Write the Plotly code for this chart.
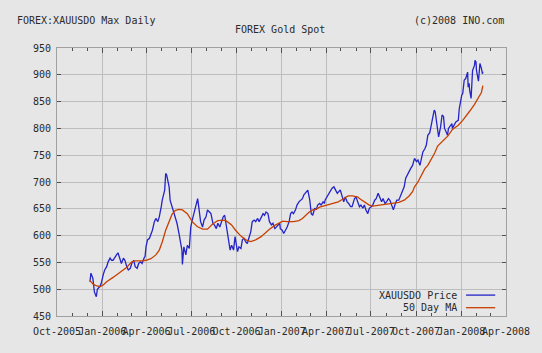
import plotly.graph_objects as go

price_dates = ["2005-12-07","2005-12-09","2005-12-13","2005-12-16","2005-12-20","2005-12-22","2005-12-27","2005-12-30",
"2006-01-03","2006-01-06","2006-01-10","2006-01-13","2006-01-17","2006-01-20","2006-01-23","2006-01-27","2006-01-30",
"2006-02-02","2006-02-06","2006-02-09","2006-02-13","2006-02-16","2006-02-20","2006-02-23","2006-02-27",
"2006-03-02","2006-03-06","2006-03-09","2006-03-13","2006-03-16","2006-03-20","2006-03-23","2006-03-27","2006-03-29","2006-03-31",
"2006-04-03","2006-04-07","2006-04-10","2006-04-13","2006-04-17","2006-04-20","2006-04-24","2006-04-27",
"2006-05-01","2006-05-03","2006-05-08","2006-05-10","2006-05-12","2006-05-17","2006-05-19","2006-05-23","2006-05-26","2006-05-30",
"2006-06-02","2006-06-06","2006-06-09","2006-06-12","2006-06-13","2006-06-16","2006-06-20","2006-06-23","2006-06-27","2006-06-30",
"2006-07-03","2006-07-06","2006-07-10","2006-07-13","2006-07-14","2006-07-17","2006-07-20","2006-07-24","2006-07-27","2006-07-31",
"2006-08-03","2006-08-07","2006-08-10","2006-08-14","2006-08-17","2006-08-21","2006-08-24","2006-08-28","2006-08-31",
"2006-09-04","2006-09-07","2006-09-11","2006-09-14","2006-09-18","2006-09-21","2006-09-25","2006-09-28","2006-09-29",
"2006-10-03","2006-10-06","2006-10-10","2006-10-13","2006-10-16","2006-10-20","2006-10-23","2006-10-26","2006-10-30",
"2006-11-02","2006-11-06","2006-11-09","2006-11-13","2006-11-16","2006-11-20","2006-11-24","2006-11-27","2006-11-30",
"2006-12-04","2006-12-07","2006-12-11","2006-12-14","2006-12-18","2006-12-21","2006-12-26","2006-12-28","2006-12-29",
"2007-01-02","2007-01-05","2007-01-09","2007-01-12","2007-01-16","2007-01-19","2007-01-22","2007-01-25","2007-01-29",
"2007-02-01","2007-02-05","2007-02-08","2007-02-12","2007-02-15","2007-02-21","2007-02-23","2007-02-27",
"2007-03-02","2007-03-05","2007-03-09","2007-03-12","2007-03-15","2007-03-19","2007-03-22","2007-03-26","2007-03-29","2007-03-30",
"2007-04-03","2007-04-06","2007-04-10","2007-04-13","2007-04-17","2007-04-20","2007-04-24","2007-04-27","2007-04-30",
"2007-05-03","2007-05-07","2007-05-10","2007-05-14","2007-05-17","2007-05-21","2007-05-24","2007-05-29",
"2007-06-01","2007-06-05","2007-06-08","2007-06-11","2007-06-15","2007-06-18","2007-06-21","2007-06-25","2007-06-28",
"2007-07-02","2007-07-05","2007-07-09","2007-07-12","2007-07-16","2007-07-19","2007-07-23","2007-07-26","2007-07-30",
"2007-08-02","2007-08-06","2007-08-09","2007-08-13","2007-08-16","2007-08-20","2007-08-23","2007-08-27","2007-08-30",
"2007-09-04","2007-09-07","2007-09-10","2007-09-13","2007-09-17","2007-09-20","2007-09-24","2007-09-27","2007-09-28",
"2007-10-02","2007-10-05","2007-10-09","2007-10-12","2007-10-15","2007-10-19","2007-10-22","2007-10-25","2007-10-29",
"2007-11-01","2007-11-05","2007-11-07","2007-11-09","2007-11-12","2007-11-14","2007-11-16","2007-11-20","2007-11-23","2007-11-26","2007-11-28",
"2007-12-03","2007-12-04","2007-12-06","2007-12-10","2007-12-13","2007-12-14","2007-12-18","2007-12-21","2007-12-26","2007-12-28",
"2008-01-02","2008-01-04","2008-01-07","2008-01-10","2008-01-14","2008-01-15","2008-01-17","2008-01-18","2008-01-21","2008-01-22",
"2008-01-24","2008-01-28","2008-01-29","2008-01-31","2008-02-01","2008-02-05","2008-02-07","2008-02-08","2008-02-11","2008-02-13","2008-02-14"]

price_values = [514,530,520,495,486,500,505,511,
527,536,542,551,558,554,554,561,564,
568,558,548,558,554,542,536,539,
548,554,542,539,548,551,548,558,561,579,
592,595,601,610,626,632,626,635,
654,666,685,716,713,691,666,654,648,636,
623,604,585,573,546,579,564,582,576,616,
629,641,654,666,669,648,626,616,629,635,
648,644,641,623,620,613,623,616,623,
635,638,616,592,573,582,573,598,592,
570,579,576,592,595,588,585,595,607,
626,629,626,632,626,635,641,638,644,
641,626,620,623,613,616,620,623,613,
610,604,610,616,626,641,644,641,648,
657,663,666,669,676,682,685,666,
641,638,651,648,657,660,657,663,660,666,
672,679,685,688,691,685,679,682,685,
676,663,672,663,660,654,654,669,
672,663,654,657,651,657,648,641,651,
654,657,666,669,679,673,663,669,660,
663,669,666,657,648,660,666,666,673,
685,691,707,713,719,725,731,741,744,
738,741,731,744,756,762,769,787,792,
806,831,834,831,812,806,784,803,825,822,800,
790,787,800,806,809,800,806,812,815,837,
862,865,890,893,905,877,884,872,856,877,
908,918,927,924,908,888,905,921,912,902,906]

ma_dates = ["2005-12-07","2005-12-14","2005-12-21","2005-12-28","2006-01-03","2006-01-10","2006-01-23","2006-02-06",
"2006-02-20","2006-03-02","2006-03-09","2006-03-23","2006-03-31","2006-04-10","2006-04-20","2006-04-27","2006-05-03",
"2006-05-10","2006-05-17","2006-05-23","2006-05-30","2006-06-06","2006-06-13","2006-06-23","2006-07-03","2006-07-13",
"2006-07-24","2006-08-03","2006-08-14","2006-08-24","2006-09-04","2006-09-11","2006-09-21","2006-09-29","2006-10-10",
"2006-10-20","2006-10-30","2006-11-09","2006-11-20","2006-11-30","2006-12-07","2006-12-18","2006-12-28","2007-01-03",
"2007-01-12","2007-01-25","2007-02-05","2007-02-12","2007-02-19","2007-02-26","2007-03-05","2007-03-12","2007-03-19",
"2007-03-27","2007-04-06","2007-04-16","2007-04-26","2007-05-03","2007-05-10","2007-05-16","2007-05-25","2007-06-05",
"2007-06-08","2007-06-18","2007-06-28","2007-07-05","2007-07-19","2007-08-02","2007-08-16","2007-08-27","2007-09-07",
"2007-09-17","2007-09-24","2007-09-28","2007-10-05","2007-10-12","2007-10-19","2007-10-25","2007-11-01","2007-11-08",
"2007-11-14","2007-11-26","2007-12-05","2007-12-14","2007-12-26","2008-01-04","2008-01-11","2008-01-18","2008-01-28",
"2008-02-04","2008-02-11","2008-02-14"]

ma_values = [516,509,506,505,508,514,522,531,
541,551,553,553,554,557,564,573,588,
610,627,640,647,649,648,641,626,617,
612,612,622,628,629,627,620,610,599,
592,589,592,598,607,612,619,624,627,
626,626,628,632,638,644,648,649,653,
655,658,660,663,667,671,674,674,672,
669,663,657,655,657,659,660,662,666,
674,682,691,700,714,725,731,742,754,
767,777,786,798,806,815,823,832,845,
855,867,880]

series_names = ["XAUUSDO Price", "50 Day MA"]
series_colors = ["#2424c8", "#c84000"]

title_left = "FOREX:XAUUSDO Max Daily"
title_center = "FOREX Gold Spot"
title_right = "(c)2008 INO.com"

FONT = "DejaVu Sans Mono"
BG = "#e6e6e6"
TXT = "#2a2a2a"

fig = go.Figure()
fig.add_trace(go.Scatter(x=price_dates, y=price_values, mode="lines", name=series_names[0],
                         line=dict(color=series_colors[0], width=1.3), showlegend=False))
fig.add_trace(go.Scatter(x=ma_dates, y=ma_values, mode="lines", name=series_names[1],
                         line=dict(color=series_colors[1], width=1.3), showlegend=False))

fig.update_layout(
    width=542, height=353,
    margin=dict(l=57, r=34, t=48, b=37),
    paper_bgcolor=BG, plot_bgcolor=BG,
    font=dict(family=FONT, size=10, color=TXT),
    showlegend=False,
)
fig.update_xaxes(
    type="date", range=["2005-10-01", "2008-04-01"],
    tick0="2005-10-01", dtick="M3", tickformat="%b-%Y", tickangle=0,
    ticks="inside", ticklen=5, tickcolor="#505050", tickwidth=1,
    ticklabelstandoff=6,
    showline=True, linecolor="#a0a0a0", linewidth=1, mirror="ticks",
    showgrid=True, gridcolor="#bdbdbd", gridwidth=1,
    minor=dict(dtick="M1", tick0="2005-10-01", ticks="inside", ticklen=3, tickcolor="#505050", showgrid=False),
    tickfont=dict(family=FONT, size=10, color=TXT),
    zeroline=False, fixedrange=True,
)
fig.update_yaxes(
    range=[450, 950], dtick=50, tick0=450,
    ticks="inside", ticklen=4, tickcolor="#505050", tickwidth=1,
    ticklabelstandoff=3,
    showline=True, linecolor="#a0a0a0", linewidth=1, mirror="ticks",
    showgrid=True, gridcolor="#bdbdbd", gridwidth=1,
    tickfont=dict(family=FONT, size=10, color=TXT),
    zeroline=False, fixedrange=True,
)

# legend (custom, text left of the line sample)
fig.add_shape(type="rect", xref="paper", yref="paper", x0=0.68, x1=0.996, y0=0.012, y1=0.097,
              fillcolor=BG, line=dict(width=0), layer="between")
leg_y = [0.078, 0.031]
for name, col, yy in zip(series_names, series_colors, leg_y):
    fig.add_annotation(text=name, xref="paper", yref="paper", x=0.896, y=yy, xanchor="right", yanchor="middle",
                       showarrow=False, font=dict(family=FONT, size=10, color=TXT))
    fig.add_shape(type="line", xref="paper", yref="paper", x0=0.911, x1=0.976, y0=yy, y1=yy,
                  line=dict(color=col, width=1.3))

fig.add_annotation(text=title_left, xref="paper", yref="paper", x=-0.094, y=1.103, xanchor="left", yanchor="middle",
                   showarrow=False, font=dict(family=FONT, size=10, color=TXT))
fig.add_annotation(text=title_center, xref="paper", yref="paper", x=0.4967, y=1.068, xanchor="center", yanchor="middle",
                   showarrow=False, font=dict(family=FONT, size=10, color=TXT))
fig.add_annotation(text=title_right, xref="paper", yref="paper", x=0.999, y=1.103, xanchor="right", yanchor="middle",
                   showarrow=False, font=dict(family=FONT, size=10, color=TXT))

fig.write_html("out.html")
